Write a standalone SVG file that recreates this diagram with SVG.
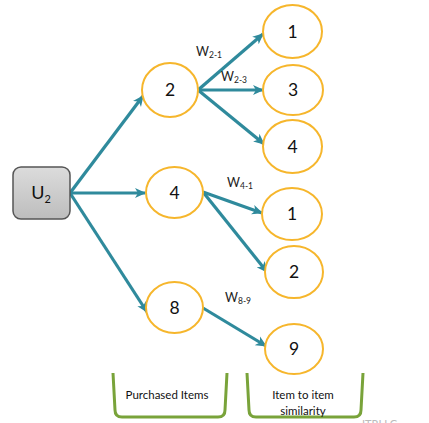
<svg xmlns="http://www.w3.org/2000/svg" width="429" height="423" viewBox="0 0 429 423">
<style>
.n{fill:#fff;stroke:#F6B62C;stroke-width:2}
.t{font-family:Lato,"Open Sans",sans-serif;font-size:17.5px;fill:#111;text-anchor:middle}
.c{stroke:#2F8A9C;stroke-width:3.2;fill:none;marker-end:url(#ah)}
.w{font-family:Lato,"Open Sans",sans-serif;font-size:12.5px;fill:#222}
.ws{font-size:8.5px}
.b{fill:none;stroke:#79A33A;stroke-width:3}
.l{font-family:Lato,"Open Sans",sans-serif;font-size:11.5px;fill:#111;text-anchor:middle}
</style>
<defs>
<marker id="ah" markerUnits="userSpaceOnUse" markerWidth="12" markerHeight="12" viewBox="0 0 12 12" refX="10" refY="6" orient="auto">
<path d="M0,1 L11,6 L0,11 L3,6 Z" fill="#2F8A9C"/>
</marker>
<linearGradient id="g" x1="0" y1="0" x2="0" y2="1">
<stop offset="0" stop-color="#dcdcdc"/>
<stop offset="1" stop-color="#bdbdbd"/>
</linearGradient>
</defs>
<g id="connectors">
<line class="c" x1="70" y1="193" x2="143" y2="96"/>
<line class="c" x1="70" y1="193" x2="145" y2="193"/>
<line class="c" x1="70" y1="193" x2="147" y2="312"/>
<line class="c" x1="198" y1="90" x2="263" y2="34"/>
<line class="c" x1="198" y1="90" x2="263" y2="90"/>
<line class="c" x1="198" y1="90" x2="264" y2="144"/>
<line class="c" x1="203" y1="192" x2="262" y2="213"/>
<line class="c" x1="203" y1="192" x2="267" y2="272"/>
<line class="c" x1="203" y1="308" x2="266" y2="346"/>
</g>
<g id="u2">
<rect x="13" y="167" width="57" height="52" rx="8" fill="url(#g)" stroke="#555" stroke-width="1.5"/>
<text class="t" x="41" y="199" style="font-size:18px">U<tspan style="font-size:11px" dy="4">2</tspan></text>
</g>
<g id="p2"><ellipse class="n" cx="170" cy="90" rx="28" ry="27"/><text class="t" x="170" y="96">2</text></g>
<g id="p4"><ellipse class="n" cx="174.5" cy="192.5" rx="28.5" ry="25.5"/><text class="t" x="174.5" y="198.5">4</text></g>
<g id="p8"><ellipse class="n" cx="174.5" cy="307.5" rx="28.5" ry="25.5"/><text class="t" x="174.5" y="313.5">8</text></g>
<g id="s1a"><ellipse class="n" cx="292.5" cy="31.5" rx="29.5" ry="26.5"/><text class="t" x="292.5" y="37.5">1</text></g>
<g id="s3"><ellipse class="n" cx="293" cy="90" rx="30" ry="25"/><text class="t" x="293" y="96">3</text></g>
<g id="s4"><ellipse class="n" cx="292.5" cy="146.5" rx="29.5" ry="26.5"/><text class="t" x="292.5" y="152.5">4</text></g>
<g id="s1b"><ellipse class="n" cx="292" cy="214" rx="30" ry="26"/><text class="t" x="292" y="220">1</text></g>
<g id="s2"><ellipse class="n" cx="294" cy="272" rx="29" ry="26"/><text class="t" x="294" y="278">2</text></g>
<g id="s9"><ellipse class="n" cx="294" cy="349" rx="29" ry="25"/><text class="t" x="294" y="355">9</text></g>
<g id="weights">
<text class="w" x="196" y="56">W<tspan class="ws" dy="2">2-1</tspan></text>
<text class="w" x="221" y="81">W<tspan class="ws" dy="2">2-3</tspan></text>
<text class="w" x="227" y="187">W<tspan class="ws" dy="2">4-1</tspan></text>
<text class="w" x="225" y="302">W<tspan class="ws" dy="2">8-9</tspan></text>
</g>
<g id="brackets">
<path class="b" d="M113,373 L115,410 Q115,417 122,417 L218,417 Q225,417 225,410 L227,373"/>
<path class="b" d="M247,373 L249,410 Q249,417 256,417 L354,417 Q361,417 361,410 L363,373"/>
<text class="l" x="167" y="399">Purchased Items</text>
<text class="l" x="303" y="399">Item to item</text>
<text class="l" x="303" y="415">similarity</text>
<text x="362" y="428" style="font-family:Lato,sans-serif;font-size:11px;fill:#bbb">ITRI LC</text>
</g>
</svg>
